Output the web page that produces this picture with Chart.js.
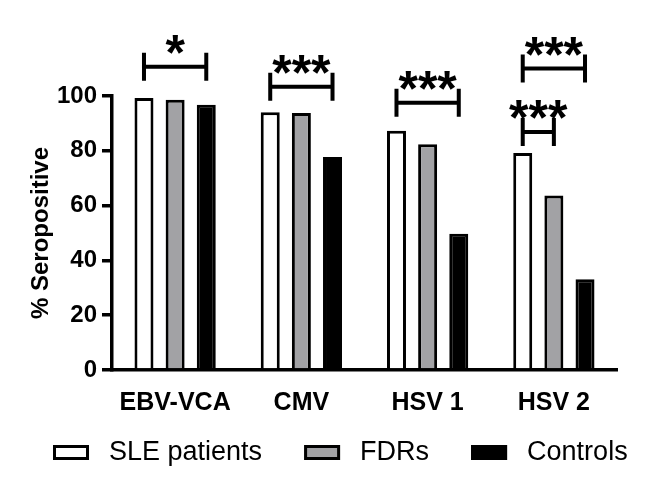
<!DOCTYPE html>
<html>
<head>
<meta charset="utf-8">
<script src="https://cdn.jsdelivr.net/npm/chart.js@4.4.0/dist/chart.umd.min.js"></script>
<style>
  body { margin: 0; background: #fff; }
  #wrap { width: 653px; height: 493px; }
</style>
</head>
<body>
<div id="wrap"><canvas id="seroChart"></canvas></div>
<script>
// % seropositive per virus and group
const viruses = ['EBV-VCA', 'CMV', 'HSV 1', 'HSV 2'];
const slePatients = [99.3, 94.1, 87.3, 79.2];
const fdrs = [98.6, 93.8, 82.4, 63.7];
const controls = [96.8, 77.7, 49.7, 33.1];
const yTicks = [0, 20, 40, 60, 80, 100];

// significance brackets: category, from group, to group, height on % axis, label
const sigCategory = [0, 1, 2, 3, 3];
const sigFrom = [0, 0, 0, 0, 0];
const sigTo = [2, 2, 2, 2, 1];
const sigLevel = [110.7, 103.4, 97.5, 110.0, 86.9];
const sigLabel = ['*', '***', '***', '***', '***'];

const FONT = "'Liberation Sans', Arial, sans-serif";
Chart.defaults.font.family = FONT;
Chart.defaults.color = '#000';

// brackets + stars above the bars
const sigBrackets = {
    id: 'sigBrackets',
    afterDatasetsDraw(chart) {
        const ctx = chart.ctx;
        const yScale = chart.scales.y;
        ctx.save();
        ctx.strokeStyle = '#000';
        ctx.fillStyle = '#000';
        ctx.lineWidth = 4;
        ctx.font = 'bold 50px ' + FONT;
        ctx.textAlign = 'center';
        ctx.textBaseline = 'alphabetic';
        sigCategory.forEach((cat, i) => {
            const x1 = chart.getDatasetMeta(sigFrom[i]).data[cat].x;
            const x2 = chart.getDatasetMeta(sigTo[i]).data[cat].x;
            const y = yScale.getPixelForValue(sigLevel[i]);
            ctx.beginPath();
            ctx.moveTo(x1, y - 14); ctx.lineTo(x1, y + 14);
            ctx.moveTo(x1, y); ctx.lineTo(x2, y);
            ctx.moveTo(x2, y - 14); ctx.lineTo(x2, y + 14);
            ctx.stroke();
            ctx.fillText(sigLabel[i], (x1 + x2) / 2, y + 3);
        });
        ctx.restore();
    }
};

// one-row legend under the axis
const legendRow = {
    id: 'legendRow',
    afterDraw(chart) {
        const ctx = chart.ctx;
        const y = 452.5;
        let x = 53;
        ctx.save();
        ctx.font = '27px ' + FONT;
        ctx.textAlign = 'left';
        ctx.textBaseline = 'middle';
        chart.data.datasets.forEach(ds => {
            ctx.fillStyle = ds.backgroundColor;
            ctx.fillRect(x, y - 7.5, 36, 15);
            ctx.lineWidth = 3;
            ctx.strokeStyle = ds.borderColor;
            ctx.strokeRect(x + 1.5, y - 6, 33, 12);
            ctx.fillStyle = '#000';
            ctx.fillText(ds.label, x + 56, y);
            x += 56 + ctx.measureText(ds.label).width + 42;
        });
        ctx.restore();
    }
};

const ctxSero = document.getElementById('seroChart').getContext('2d');
const seroChart = new Chart(ctxSero, {
    type: 'bar',
    data: {
        labels: viruses,
        datasets: [
            { label: 'SLE patients', data: slePatients, backgroundColor: '#ffffff', borderColor: '#000', borderWidth: 3 },
            { label: 'FDRs', data: fdrs, backgroundColor: '#a2a2a5', borderColor: '#000', borderWidth: 3 },
            { label: 'Controls', data: controls, backgroundColor: '#000000', borderColor: '#000', borderWidth: 3 }
        ]
    },
    options: {
        responsive: true,
        maintainAspectRatio: false,
        animation: false,
        categoryPercentage: 0.74,
        barPercentage: 0.61,
        layout: { padding: { left: 15, right: 36, top: 96, bottom: 83 } },
        scales: {
            x: {
                grid: { display: false },
                border: { display: true, color: '#000', width: 3.5 },
                ticks: { font: { size: 25, weight: 'bold' }, color: '#000', padding: 10, maxRotation: 0 },
                afterFit: axis => { axis.height = 40; }
            },
            y: {
                min: 0,
                max: 100,
                afterBuildTicks: axis => { axis.ticks = yTicks.map(v => ({ value: v })); },
                afterFit: axis => { axis.width = 97; },
                grid: { drawOnChartArea: false, color: '#000', lineWidth: 3.5, tickLength: 10 },
                border: { display: true, color: '#000', width: 3.5 },
                ticks: { font: { size: 24, weight: 'bold' }, color: '#000', padding: 5 },
                title: { display: true, text: '% Seropositive', font: { size: 24, weight: 'bold' }, color: '#000', padding: { top: 12, bottom: 4 } }
            }
        },
        plugins: {
            legend: { display: false },
            tooltip: { enabled: false }
        }
    },
    plugins: [sigBrackets, legendRow]
});
</script>
</body>
</html>
